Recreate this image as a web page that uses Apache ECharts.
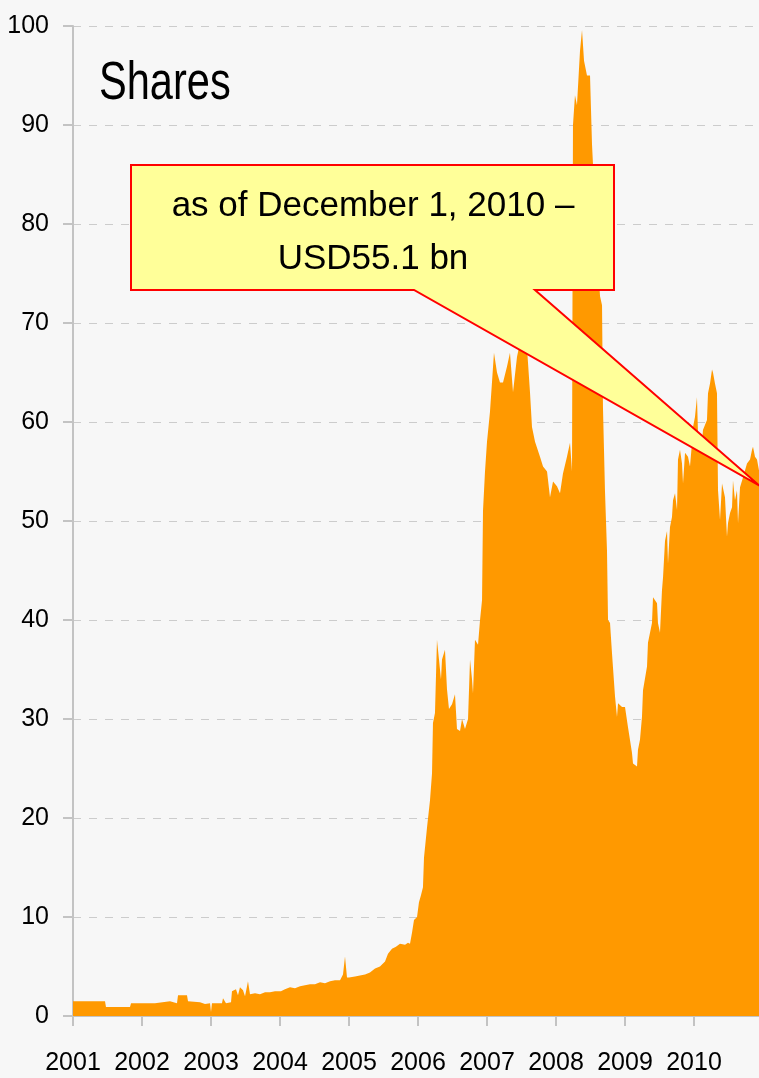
<!DOCTYPE html>
<html>
<head>
<meta charset="utf-8">
<title>Shares</title>
<script src="https://cdn.jsdelivr.net/npm/echarts@6/dist/echarts.min.js"></script>
<style>
  html, body { margin: 0; padding: 0; background: #f7f7f7; }
  #main { width: 759px; height: 1078px; }
</style>
</head>
<body>
<div id="main"></div>
<script type="text/javascript">
    // time in decimal years, value in USD bn
    var years = [
        2001.000, 2001.464, 2001.478, 2001.826, 2001.841, 2002.188, 2002.203, 2002.406, 2002.420, 2002.507,
        2002.522, 2002.652, 2002.667, 2002.841, 2002.913, 2002.986, 2003.000, 2003.014, 2003.159, 2003.174,
        2003.217, 2003.290, 2003.304, 2003.362, 2003.391, 2003.420, 2003.464, 2003.493, 2003.522, 2003.536,
        2003.565, 2003.638, 2003.710, 2003.783, 2003.855, 2003.928, 2004.014, 2004.072, 2004.145, 2004.217,
        2004.290, 2004.362, 2004.435, 2004.507, 2004.580, 2004.652, 2004.725, 2004.797, 2004.870, 2004.913,
        2004.942, 2004.971, 2005.000, 2005.087, 2005.159, 2005.232, 2005.304, 2005.377, 2005.449, 2005.522,
        2005.565, 2005.623, 2005.681, 2005.739, 2005.812, 2005.855, 2005.884, 2005.913, 2005.942, 2005.986,
        2006.014, 2006.043, 2006.072, 2006.087, 2006.130, 2006.174, 2006.203, 2006.217, 2006.246, 2006.275,
        2006.304, 2006.333, 2006.348, 2006.391, 2006.420, 2006.449, 2006.493, 2006.536, 2006.565, 2006.609,
        2006.638, 2006.681, 2006.725, 2006.754, 2006.783, 2006.797, 2006.826, 2006.870, 2006.899, 2006.928,
        2006.942, 2006.971, 2007.000, 2007.043, 2007.072, 2007.101, 2007.145, 2007.188, 2007.232, 2007.290,
        2007.333, 2007.377, 2007.435, 2007.478, 2007.522, 2007.565, 2007.594, 2007.623, 2007.652, 2007.696,
        2007.768, 2007.812, 2007.870, 2007.913, 2007.957, 2008.014, 2008.058, 2008.101, 2008.159, 2008.203,
        2008.232, 2008.246, 2008.275, 2008.304, 2008.348, 2008.377, 2008.406, 2008.449, 2008.493, 2008.522,
        2008.565, 2008.609, 2008.638, 2008.667, 2008.681, 2008.710, 2008.739, 2008.754, 2008.783, 2008.812,
        2008.826, 2008.855, 2008.884, 2008.899, 2008.957, 2009.000, 2009.043, 2009.101, 2009.116, 2009.174,
        2009.188, 2009.217, 2009.246, 2009.261, 2009.319, 2009.333, 2009.391, 2009.406, 2009.464, 2009.478,
        2009.507, 2009.536, 2009.551, 2009.580, 2009.609, 2009.623, 2009.652, 2009.681, 2009.696, 2009.725,
        2009.754, 2009.768, 2009.797, 2009.826, 2009.841, 2009.870, 2009.913, 2009.942, 2009.971, 2009.986,
        2010.014, 2010.043, 2010.058, 2010.116, 2010.130, 2010.188, 2010.203, 2010.232, 2010.261, 2010.275,
        2010.304, 2010.333, 2010.348, 2010.377, 2010.406, 2010.449, 2010.478, 2010.493, 2010.522, 2010.551,
        2010.565, 2010.594, 2010.623, 2010.638, 2010.667, 2010.710, 2010.768, 2010.812, 2010.841, 2010.855,
        2010.884, 2010.913, 2010.942
    ];
    var shares = [
        1.5, 1.5, 0.9, 0.9, 1.3, 1.3, 1.5, 1.5, 1.3, 1.3,
        2.1, 2.1, 1.5, 1.4, 1.2, 1.3, 0.4, 1.3, 1.3, 1.8,
        1.3, 1.4, 2.5, 2.7, 2.1, 2.9, 2.6, 2.0, 3.0, 3.5,
        2.2, 2.3, 2.2, 2.4, 2.4, 2.5, 2.5, 2.7, 2.9, 2.8,
        3.0, 3.1, 3.2, 3.2, 3.4, 3.3, 3.5, 3.6, 3.6, 4.2,
        6.0, 3.9, 3.9, 4.0, 4.1, 4.2, 4.4, 4.8, 5.0, 5.5,
        6.3, 6.8, 7.0, 7.3, 7.2, 7.4, 7.3, 8.4, 9.7, 10.0,
        11.5, 12.2, 13.0, 16.0, 19.0, 21.8, 24.5, 29.6, 30.6, 38.0,
        36.0, 34.0, 36.0, 37.0, 33.0, 31.0, 31.5, 32.5, 29.0, 28.8,
        30.0, 29.0, 30.0, 36.0, 34.0, 32.6, 38.0, 37.5, 40.0, 42.0,
        51.0, 55.0, 58.0, 61.0, 64.0, 67.0, 65.0, 64.0, 64.0, 65.6,
        67.0, 63.0, 66.6, 68.0, 70.0, 69.0, 66.0, 63.0, 59.5, 58.0,
        56.5, 55.5, 55.0, 52.4, 54.0, 53.5, 52.8, 54.8, 56.5, 57.9,
        55.0, 90.0, 93.0, 92.0, 97.5, 99.6, 96.5, 95.0, 95.0, 88.0,
        82.0, 76.0, 72.7, 71.8, 61.4, 53.0, 47.0, 40.0, 39.7, 36.6,
        36.4, 32.3, 30.2, 31.6, 31.2, 31.2, 29.2, 26.6, 25.5, 25.2,
        26.9, 27.9, 30.2, 32.9, 35.3, 37.7, 39.7, 42.3, 41.7, 39.7,
        38.7, 43.0, 44.3, 48.0, 49.0, 45.7, 49.4, 50.4, 52.1, 52.8,
        51.1, 56.2, 57.2, 55.8, 53.8, 56.9, 56.5, 55.5, 57.9, 59.5,
        60.5, 62.5, 58.9, 57.9, 59.2, 60.2, 62.9, 63.9, 65.3, 65.0,
        63.9, 62.9, 53.1, 50.1, 53.8, 52.4, 48.4, 49.8, 50.8, 51.4,
        54.1, 52.1, 53.1, 49.8, 53.4, 54.4, 55.8, 56.2, 57.2, 57.5,
        56.5, 56.2, 55.1
    ];
    var calloutText = ['as of December 1, 2010 \u2013', 'USD55.1 bn'];
    var calloutAt = [2010.942, 53.6];

    var font = "'Liberation Sans', Arial, sans-serif";

    var data = [];
    for (var i = 0; i < years.length; i++) {
        data.push([years[i], shares[i]]);
    }

    var myChart = echarts.init(document.getElementById('main'));

    var option = {
        backgroundColor: '#f7f7f7',
        animation: false,
        grid: { left: 73, right: 0, top: 26, bottom: 62, outerBoundsMode: 'none' },
        xAxis: {
            type: 'value',
            min: 2001,
            max: 2010.942,
            interval: 1,
            axisLine: { lineStyle: { color: '#c3c3c3', width: 2 } },
            axisTick: { length: 10, lineStyle: { color: '#c3c3c3', width: 2 } },
            axisLabel: {
                margin: 35,
                fontFamily: font,
                fontSize: 25,
                color: '#000',
                showMinLabel: true,
                showMaxLabel: false,
                hideOverlap: false,
                formatter: function (v) { return v % 1 === 0 ? String(v) : ''; }
            },
            splitLine: { show: false }
        },
        yAxis: {
            type: 'value',
            min: 0,
            max: 100,
            interval: 10,
            axisLine: { show: true, lineStyle: { color: '#c3c3c3', width: 2 } },
            axisTick: { show: true, length: 10, lineStyle: { color: '#c3c3c3', width: 2 } },
            axisLabel: { margin: 24, fontFamily: font, fontSize: 25, color: '#000' },
            splitLine: { lineStyle: { color: '#cccccc', width: 1, type: [8, 8] } }
        },
        series: [{
            name: 'Shares',
            type: 'line',
            data: data,
            symbol: 'none',
            lineStyle: { width: 0 },
            areaStyle: { color: '#ff9900', opacity: 1 }
        }]
    };
    myChart.setOption(option);

    // title and callout box with pointer to the last value
    var tip = myChart.convertToPixel({ gridIndex: 0 }, calloutAt);
    myChart.setOption({
        graphic: [{
            type: 'text',
            z: 100,
            x: 99,
            y: 84,
            scaleX: 0.77,
            style: {
                text: 'Shares',
                font: '54px ' + font,
                fill: '#000',
                align: 'left',
                verticalAlign: 'middle'
            }
        }, {
            type: 'polygon',
            z: 100,
            shape: {
                points: [[131, 165], [614, 165], [614, 290], [535, 290], tip, [414, 290], [131, 290]]
            },
            style: { fill: '#ffff99', stroke: '#ff0000', lineWidth: 2 }
        }, {
            type: 'text',
            z: 101,
            x: 373,
            y: 233,
            style: {
                text: calloutText.join('\n'),
                font: '35px ' + font,
                fill: '#000',
                align: 'center',
                verticalAlign: 'middle',
                lineHeight: 53
            }
        }]
    });
</script>
</body>
</html>
